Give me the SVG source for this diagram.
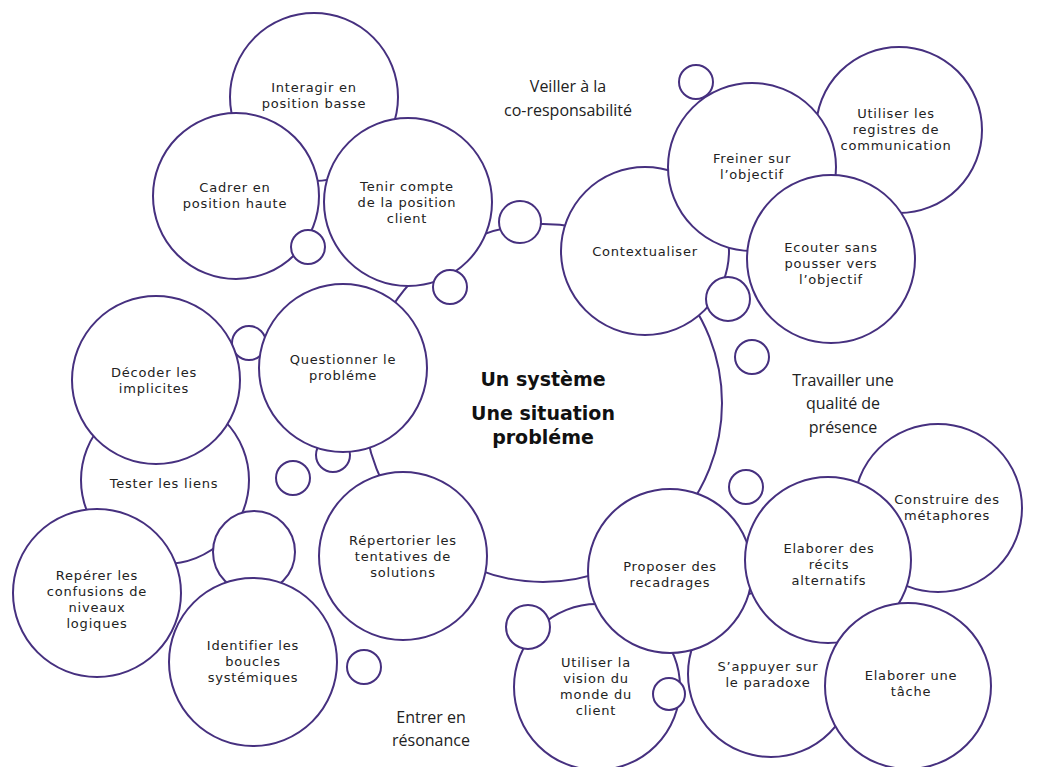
<svg xmlns="http://www.w3.org/2000/svg" width="1049" height="767" viewBox="0 0 1049 767">
<style>
.c{fill:#fff;stroke:#46307f;stroke-width:2}
.t{font-family:"DejaVu Sans","Liberation Sans",sans-serif;font-size:13px;letter-spacing:0.8px;text-anchor:middle;fill:#222}
.s{font-family:"Open Sans","Liberation Sans",sans-serif;font-size:16px;text-anchor:middle;fill:#222}
.m{font-family:"DejaVu Sans","Liberation Sans",sans-serif;font-size:19px;font-weight:bold;text-anchor:middle;fill:#111}
</style>
<rect width="1049" height="767" fill="#fff"/>
<g id="connectors"></g>
<g id="centre"><circle class="c" cx="543" cy="403" r="179"/></g>
<g id="interagir"><circle class="c" cx="314" cy="97" r="84"/><text class="t" x="314" y="92">Interagir en</text><text class="t" x="314" y="108">position basse</text></g>
<g id="cadrer"><circle class="c" cx="236" cy="196" r="83"/><text class="t" x="235" y="192">Cadrer en</text><text class="t" x="235" y="208">position haute</text></g>
<g id="tenir"><circle class="c" cx="408" cy="202" r="84"/><text class="t" x="407" y="191">Tenir compte</text><text class="t" x="407" y="207">de la position</text><text class="t" x="407" y="223">client</text></g>
<g id="b1"><circle class="c" cx="308" cy="247" r="17"/></g>
<g id="b2"><circle class="c" cx="450" cy="287" r="17"/></g>
<g id="b3"><circle class="c" cx="520" cy="222" r="21"/></g>
<g id="registres"><circle class="c" cx="899" cy="130" r="83"/><text class="t" x="896" y="118">Utiliser les</text><text class="t" x="896" y="134">registres de</text><text class="t" x="896" y="150">communication</text></g>
<g id="contextualiser"><circle class="c" cx="645" cy="251" r="84"/><text class="t" x="645" y="256">Contextualiser</text></g>
<g id="freiner"><circle class="c" cx="752" cy="167" r="84"/><text class="t" x="752" y="163">Freiner sur</text><text class="t" x="752" y="179">l’objectif</text></g>
<g id="b4"><circle class="c" cx="696" cy="82" r="17"/></g>
<g id="ecouter"><circle class="c" cx="831" cy="259" r="84"/><text class="t" x="831" y="252">Ecouter sans</text><text class="t" x="831" y="268">pousser vers</text><text class="t" x="831" y="284">l’objectif</text></g>
<g id="b5"><circle class="c" cx="728" cy="299" r="22"/></g>
<g id="b6"><circle class="c" cx="752" cy="357" r="17"/></g>
<g id="b7"><circle class="c" cx="249" cy="343" r="17"/></g>
<g id="b8"><circle class="c" cx="333" cy="455" r="17"/></g>
<g id="tester"><circle class="c" cx="165" cy="480" r="84"/><text class="t" x="164" y="488">Tester les liens</text></g>
<g id="decoder"><circle class="c" cx="156" cy="380" r="84"/><text class="t" x="154" y="377">Décoder les</text><text class="t" x="154" y="393">implicites</text></g>
<g id="questionner"><circle class="c" cx="343" cy="368" r="84"/><text class="t" x="343" y="364">Questionner le</text><text class="t" x="343" y="380">probléme</text></g>
<g id="b9"><circle class="c" cx="293" cy="478" r="17"/></g>
<g id="reperer"><circle class="c" cx="97" cy="593" r="84"/><text class="t" x="97" y="580">Repérer les</text><text class="t" x="97" y="596">confusions de</text><text class="t" x="97" y="612">niveaux</text><text class="t" x="97" y="628">logiques</text></g>
<g id="b10"><circle class="c" cx="254" cy="552" r="41"/></g>
<g id="identifier"><circle class="c" cx="253" cy="662" r="84"/><text class="t" x="253" y="650">Identifier les</text><text class="t" x="253" y="666">boucles</text><text class="t" x="253" y="682">systémiques</text></g>
<g id="b11"><circle class="c" cx="364" cy="667" r="17"/></g>
<g id="repertorier"><circle class="c" cx="403" cy="556" r="84"/><text class="t" x="403" y="545">Répertorier les</text><text class="t" x="403" y="561">tentatives de</text><text class="t" x="403" y="577">solutions</text></g>
<g id="construire"><circle class="c" cx="938" cy="508" r="84"/><text class="t" x="947" y="504">Construire des</text><text class="t" x="947" y="520">métaphores</text></g>
<g id="b12"><circle class="c" cx="746" cy="487" r="17"/></g>
<g id="appuyer"><circle class="c" cx="771" cy="674" r="83"/><text class="t" x="768" y="671">S’appuyer sur</text><text class="t" x="768" y="687">le paradoxe</text></g>
<g id="vision"><circle class="c" cx="597" cy="687" r="83"/><text class="t" x="596" y="667">Utiliser la</text><text class="t" x="596" y="683">vision du</text><text class="t" x="596" y="699">monde du</text><text class="t" x="596" y="715">client</text></g>
<g id="proposer"><circle class="c" cx="670" cy="571" r="82"/><text class="t" x="670" y="571">Proposer des</text><text class="t" x="670" y="587">recadrages</text></g>
<g id="b13"><circle class="c" cx="528" cy="627" r="22"/></g>
<g id="b14"><circle class="c" cx="669" cy="694" r="16"/></g>
<g id="recits"><circle class="c" cx="828" cy="560" r="83"/><text class="t" x="829" y="553">Elaborer des</text><text class="t" x="829" y="569">récits</text><text class="t" x="829" y="585">alternatifs</text></g>
<g id="tache"><circle class="c" cx="908" cy="686" r="83"/><text class="t" x="911" y="680">Elaborer une</text><text class="t" x="911" y="696">tâche</text></g>
<g id="titre"><text class="m" x="543" y="386">Un système</text><text class="m" x="543" y="420">Une situation</text><text class="m" x="543" y="444">probléme</text></g>
<g id="veiller"><text class="s" x="568" y="92">Veiller à la</text><text class="s" x="568" y="116">co-responsabilité</text></g>
<g id="travailler"><text class="s" x="843" y="386">Travailler une</text><text class="s" x="843" y="409">qualité de</text><text class="s" x="843" y="433">présence</text></g>
<g id="entrer"><text class="s" x="431" y="723">Entrer en</text><text class="s" x="431" y="746">résonance</text></g>
</svg>
